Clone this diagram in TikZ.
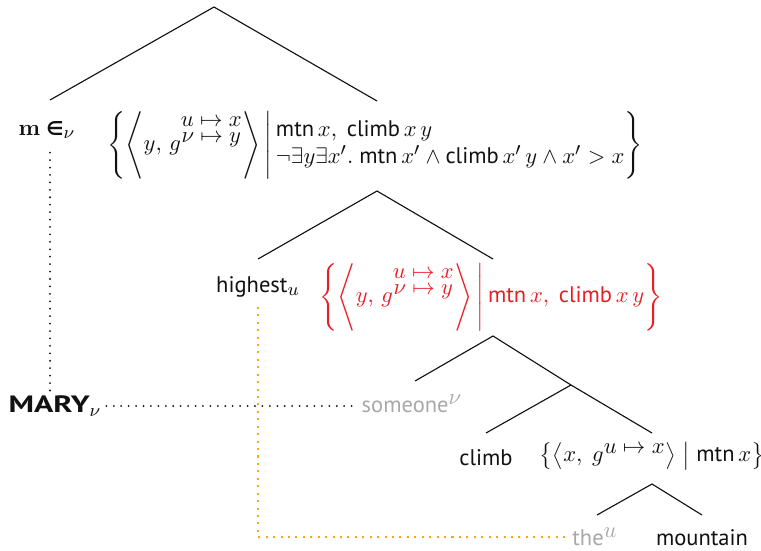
\documentclass[tikz,border=0pt]{standalone}
\usepackage{amsmath}
\usepackage{amssymb}
\usepackage[no-math]{fontspec}
\setmainfont{PT Sans}
\newfontfamily\lmserif{Latin Modern Roman}
\newfontfamily\symfont{DejaVu Sans}
\usepackage{xcolor}
\definecolor{treeink}{HTML}{111111}
\definecolor{focusred}{HTML}{EA1C24}
\definecolor{fadegray}{HTML}{A8A8A8}
\definecolor{traceorange}{HTML}{F4A71D}
\DeclareMathSizes{10}{10}{8}{6.5}
\newcommand{\gstack}{g^{{\renewcommand\arraystretch{0.6}%
    \begin{array}[b]{@{}c@{}} u\mapsto x\\ \nu\mapsto y\end{array}}}}

\begin{document}
\begin{tikzpicture}[x=0.444pt, y=-0.444pt,
                    every node/.style={treeink, font=\normalsize, inner sep=2pt},
                    branch/.style={treeink, line width=0.5pt},
                    bind/.style={treeink, line width=0.9pt, line cap=round,
                                 dash pattern=on 0pt off 3.3pt},
                    trace/.style={traceorange, line width=0.9pt,
                                  dash pattern=on 0.9pt off 2.4pt},
                    gone/.style={fadegray},
                    focus/.style={focusred}]

  \useasboundingbox (0,0) rectangle (761,550);

  %% tree labels
  \node (mel) at (47,130)
    {{\lmserif\bfseries m}\;{\symfont\bfseries\fontsize{8.5}{10}\selectfont ∈}$_{\nu}$};
  \node (bigset) at (375,145)
    {$\left\{\left\langle y,\, \gstack\right\rangle
      \,\middle|\,
      \begin{array}{@{}l@{}}
        \text{mtn}\,x,\ \text{climb}\,x\,y\\
        \neg\exists y\exists x'.\ \text{mtn}\,x'\wedge\text{climb}\,x'\,y\wedge x'>x
      \end{array}\right\}$};
  \node (highest) at (258,287) {highest$_{u}$};
  \node[focus] (redset) at (491,297)
    {$\left\{\left\langle y,\, \gstack\right\rangle
      \,\middle|\, \text{mtn}\,x,\ \text{climb}\,x\,y\right\}$};
  \node[gone] (someone) at (412,404) {someone$^{\textstyle\nu}$};
  \node (mary) at (55,406)
    {\scalebox{1.35}[1]{\fontsize{10.5}{12}\selectfont\bfseries MARY}$_{\nu}$};
  \node (climb) at (486,458) {climb};
  \node (smallset) at (652,456)
    {$\bigl\{\bigl\langle x,\ g^{\textstyle u\mapsto x}\bigr\rangle \bigm| \text{mtn}\,x\bigr\}$};
  \node[gone] (the) at (595,537) {the$^{\textstyle u}$};
  \node (mountain) at (702,538) {mountain};

  %% branch points
  \coordinate (top) at (214,7);
  \coordinate (mel-up) at (50,100);
  \coordinate (bigset-up) at (377,101);
  \coordinate (bigset-down) at (377,191);
  \coordinate (highest-up) at (258,259);
  \coordinate (redset-up) at (493,259);
  \coordinate (redset-down) at (493,336);
  \coordinate (someone-up) at (415,381);
  \coordinate (vp) at (571,385);
  \coordinate (climb-up) at (486,433);
  \coordinate (smallset-up) at (652,433);
  \coordinate (smallset-down) at (652,484);
  \coordinate (the-up) at (597,515);
  \coordinate (mountain-up) at (702,515);

  %% branches
  \draw[branch] (mel-up) -- (top) -- (bigset-up);
  \draw[branch] (highest-up) -- (bigset-down) -- (redset-up);
  \draw[branch] (someone-up) -- (redset-down) -- (vp) -- (smallset-up);
  \draw[branch] (climb-up) -- (vp);
  \draw[branch] (the-up) -- (smallset-down) -- (mountain-up);

  %% binding links
  \draw[bind, shorten <=4pt] (mel.south -| mel-up) -- (mary.north -| mel-up);
  \draw[bind] (mary.east) -- (mary.east -| someone.west);
  \draw[trace, shorten <=2pt] (highest.south) |- (the.west);

\end{tikzpicture}
\end{document}
